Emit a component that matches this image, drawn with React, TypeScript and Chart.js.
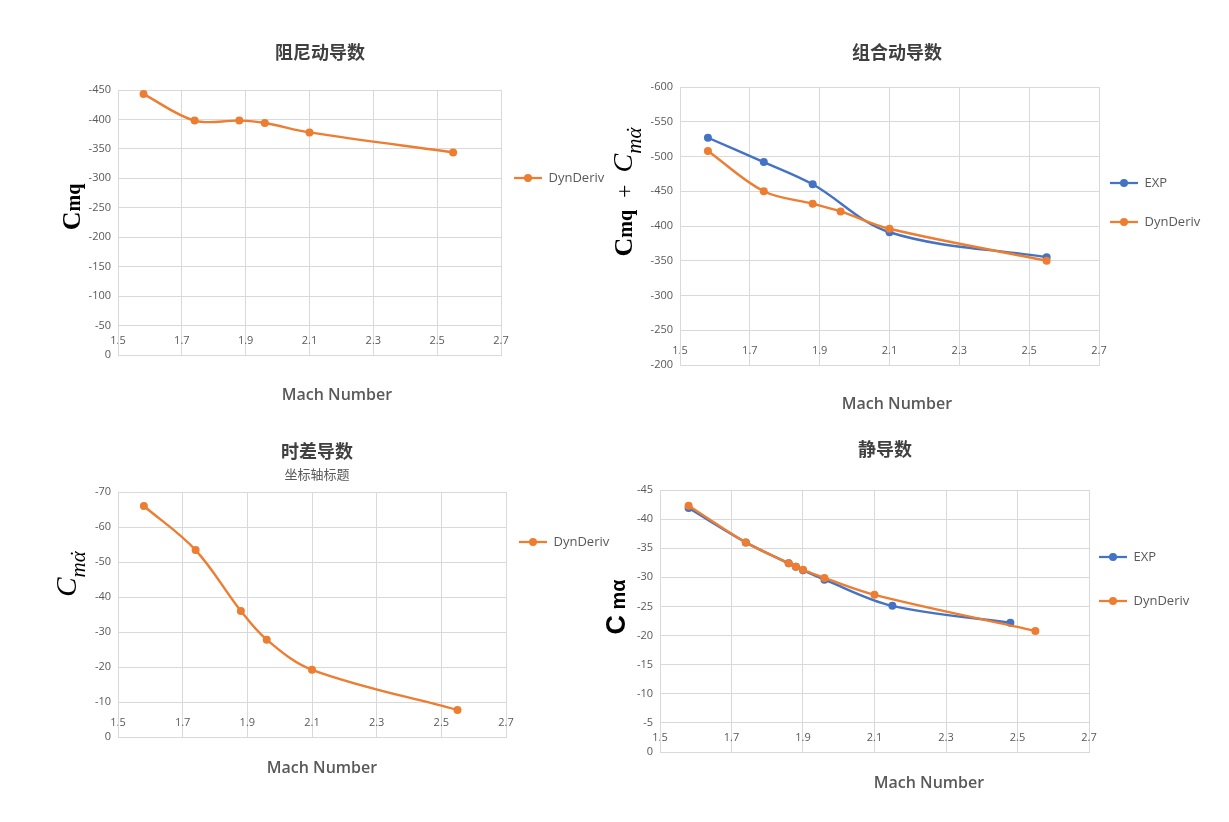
import { useEffect, useRef } from 'react';
import { Chart, registerables } from 'chart.js';

Chart.register(...registerables);

// ---------- data ----------
const machMin = 1.5;
const machMax = 2.7;
const machStep = 0.2;

// 阻尼动导数 (Cmq)
const dampMach = [1.58, 1.74, 1.88, 1.96, 2.1, 2.55];
const dampDyn = [-443, -398, -398, -394, -378, -344];
const dampAxis = [-450, 0, 50];

// 组合动导数 (Cmq + Cmα̇)
const combExpMach = [1.58, 1.74, 1.88, 2.1, 2.55];
const combExp = [-527, -492, -460, -391, -355];
const combDynMach = [1.58, 1.74, 1.88, 1.96, 2.1, 2.55];
const combDyn = [-508, -450, -432, -421, -396, -350];
const combAxis = [-600, -200, 50];

// 时差导数 (Cmα̇)
const lagMach = [1.58, 1.74, 1.88, 1.96, 2.1, 2.55];
const lagDyn = [-66, -53.4, -36, -27.8, -19.2, -7.7];
const lagAxis = [-70, 0, 10];

// 静导数 (Cmα)
const staticExpMach = [1.58, 1.74, 1.86, 1.88, 1.9, 1.96, 2.15, 2.48];
const staticExp = [-41.9, -36, -32.4, -31.8, -31.2, -29.6, -25.1, -22.2];
const staticDynMach = [1.58, 1.74, 1.86, 1.88, 1.9, 1.96, 2.1, 2.55];
const staticDyn = [-42.3, -36.0, -32.4, -31.8, -31.3, -29.9, -27.0, -20.8];
const staticAxis = [-45, 0, 5];

const chartTitles = ['阻尼动导数', '组合动导数', '时差导数', '静导数'];
const subTitle = '坐标轴标题';
const xAxisTitle = 'Mach Number';
const expLabel = 'EXP';
const dynLabel = 'DynDeriv';

// ---------- styles ----------
const ORANGE = '#ED7D31';
const BLUE = '#4472C4';
const GRID = '#d9d9d9';
const TICK = '#595959';
const OPEN = '"Open Sans", "Liberation Sans", sans-serif';
const TICK_FONT = { family: OPEN, size: 11 };
const LEGEND_SIZE = 13;
const LEGEND_ICON_W = 28;
const SERIF = '"Liberation Serif", "DejaVu Serif", serif';
const SANS = '"Liberation Sans", "DejaVu Sans", sans-serif';

type Seg = { text: string; font: string; dy?: number; dot?: boolean };
type Series = { label: string; xs: number[]; ys: number[]; color: string; order: number };
type Spec = {
  left: number; top: number; w: number; h: number;
  title: string; titleCx: number; titleTop: number; titleBottom: number;
  sub?: { text: string; top: number; bottom: number };
  plotL: number; plotR: number; xH: number;
  axis: number[];
  legendPad: number; legendLine: number; legendTop: number;
  xTitle: { cx: number; cy: number };
  yTitle: { cx: number; cy: number; base: number; segs: Seg[] };
  series: Series[];
};

const specs: Spec[] = [
  {
    left: 0, top: 0, w: 624, h: 420,
    title: chartTitles[0], titleCx: 320, titleTop: 41.2, titleBottom: 27.2,
    plotL: 118, plotR: 501, xH: 65,
    axis: dampAxis,
    legendPad: 13, legendLine: 20, legendTop: 148.5,
    xTitle: { cx: 337, cy: 395 },
    yTitle: {
      cx: 71, cy: 207, base: 8.5,
      segs: [
        { text: 'C', font: `bold 26px ${SERIF}` },
        { text: 'mq', font: `bold 20px ${SERIF}` },
      ],
    },
    series: [{ label: dynLabel, xs: dampMach, ys: dampDyn, color: ORANGE, order: 1 }],
  },
  {
    left: 570, top: 0, w: 659, h: 420,
    title: chartTitles[1], titleCx: 327, titleTop: 41.2, titleBottom: 24.2,
    plotL: 110, plotR: 529, xH: 55,
    axis: combAxis,
    legendPad: 11, legendLine: 28, legendTop: 155.5,
    xTitle: { cx: 327, cy: 404 },
    yTitle: {
      cx: 53, cy: 192, base: 8.5,
      segs: [
        { text: 'C', font: `bold 26px ${SERIF}` },
        { text: 'mq', font: `bold 20px ${SERIF}` },
        { text: '  +  ', font: `24px ${SERIF}` },
        { text: 'C', font: `italic 28px ${SERIF}` },
        { text: 'mα', font: `italic 21px ${SERIF}`, dy: 9, dot: true },
      ],
    },
    series: [
      { label: expLabel, xs: combExpMach, ys: combExp, color: BLUE, order: 2 },
      { label: dynLabel, xs: combDynMach, ys: combDyn, color: ORANGE, order: 1 },
    ],
  },
  {
    left: 0, top: 420, w: 626, h: 402,
    title: chartTitles[2], titleCx: 317, titleTop: 20.2, titleBottom: 0,
    sub: { text: subTitle, top: 4.4, bottom: 10.2 },
    plotL: 118, plotR: 506, xH: 85,
    axis: lagAxis,
    legendPad: 13, legendLine: 20, legendTop: 92.5,
    xTitle: { cx: 322, cy: 348 },
    yTitle: {
      cx: 68, cy: 154, base: 8,
      segs: [
        { text: 'C', font: `italic 29px ${SERIF}` },
        { text: 'mα', font: `italic 21px ${SERIF}`, dy: 9, dot: true },
      ],
    },
    series: [{ label: dynLabel, xs: lagMach, ys: lagDyn, color: ORANGE, order: 1 }],
  },
  {
    left: 560, top: 420, w: 669, h: 402,
    title: chartTitles[3], titleCx: 325, titleTop: 18.2, titleBottom: 30.2,
    plotL: 100, plotR: 529, xH: 70,
    axis: staticAxis,
    legendPad: 10, legendLine: 34, legendTop: 110.5,
    xTitle: { cx: 369, cy: 363 },
    yTitle: {
      cx: 56, cy: 187, base: 8.5,
      segs: [
        { text: 'C', font: `bold 27px ${SANS}` },
        { text: ' mα', font: `bold 20px ${SANS}` },
      ],
    },
    series: [
      { label: expLabel, xs: staticExpMach, ys: staticExp, color: BLUE, order: 2 },
      { label: dynLabel, xs: staticDynMach, ys: staticDyn, color: ORANGE, order: 1 },
    ],
  },
];

function legendIcon(color: string) {
  const c = document.createElement('canvas');
  c.width = LEGEND_ICON_W;
  c.height = 10;
  const g = c.getContext('2d')!;
  g.strokeStyle = color;
  g.lineWidth = 2.25;
  g.beginPath();
  g.moveTo(0, 5);
  g.lineTo(LEGEND_ICON_W, 5);
  g.stroke();
  g.fillStyle = color;
  g.beginPath();
  g.arc(LEGEND_ICON_W / 2, 5, 4, 0, Math.PI * 2);
  g.fill();
  return c;
}

function measure(text: string, font: string) {
  const c = document.createElement('canvas');
  const g = c.getContext('2d')!;
  g.font = font;
  return g.measureText(text).width;
}

function axisTitlesPlugin(spec: Spec) {
  return {
    id: 'richAxisTitles',
    afterDraw(chart: any) {
      const ctx = chart.ctx as CanvasRenderingContext2D;
      ctx.save();
      ctx.font = `600 16px ${OPEN}`;
      ctx.fillStyle = TICK;
      ctx.textAlign = 'center';
      ctx.textBaseline = 'middle';
      ctx.fillText(xAxisTitle, spec.xTitle.cx, spec.xTitle.cy);
      ctx.restore();

      const yt = spec.yTitle;
      ctx.save();
      ctx.translate(yt.cx, yt.cy);
      ctx.rotate(-Math.PI / 2);
      ctx.fillStyle = '#000';
      ctx.textAlign = 'left';
      ctx.textBaseline = 'alphabetic';
      let total = 0;
      const widths = yt.segs.map((s) => {
        ctx.font = s.font;
        const w = ctx.measureText(s.text).width;
        total += w;
        return w;
      });
      let cur = -total / 2;
      yt.segs.forEach((s, i) => {
        ctx.font = s.font;
        const by = yt.base + (s.dy || 0);
        ctx.fillText(s.text, cur, by);
        if (s.dot) {
          const lastW = ctx.measureText(s.text.slice(-1)).width;
          ctx.textAlign = 'center';
          ctx.fillText('˙', cur + widths[i] - lastW / 2 + 2, by);
          ctx.textAlign = 'left';
        }
        cur += widths[i];
      });
      ctx.restore();
    },
  };
}

function buildConfig(spec: Spec): any {
  const [yMin, yMax, yStep] = spec.axis;
  const legendFont = `${LEGEND_SIZE}px ${OPEN}`;
  const maxText = Math.max(...spec.series.map((s) => measure(s.label, legendFont)));
  const legendW = spec.legendPad + LEGEND_ICON_W + LEGEND_SIZE / 2 + maxText + 10;
  const padR = spec.w - spec.plotR - legendW;
  const padL = 2 * spec.titleCx - spec.w + padR;
  const yW = spec.plotL - padL;
  return {
    type: 'line',
    data: {
      datasets: spec.series.map((s) => ({
        label: s.label,
        data: s.xs.map((x, i) => ({ x, y: s.ys[i] })),
        borderColor: s.color,
        backgroundColor: s.color,
        pointBackgroundColor: s.color,
        pointBorderColor: s.color,
        pointRadius: 4,
        pointHoverRadius: 4,
        pointBorderWidth: 0,
        borderWidth: 2.4,
        tension: 0.35,
        fill: false,
        order: s.order,
      })),
    },
    options: {
      responsive: false,
      animation: false,
      events: [],
      layout: { padding: { left: padL, right: padR, top: 0, bottom: 0 } },
      scales: {
        x: {
          type: 'linear',
          min: machMin,
          max: machMax,
          ticks: {
            stepSize: machStep,
            callback: (v: any) => Number(v).toFixed(1),
            mirror: true,
            padding: 8,
            maxRotation: 0,
            autoSkip: false,
            color: TICK,
            font: TICK_FONT,
          },
          grid: { color: GRID, drawTicks: false, lineWidth: 1 },
          border: { color: GRID, width: 1 },
          afterFit: (s: any) => {
            s.height = spec.xH;
          },
        },
        y: {
          type: 'linear',
          reverse: true,
          min: yMin,
          max: yMax,
          ticks: { stepSize: yStep, padding: 7, color: TICK, font: TICK_FONT },
          grid: { color: GRID, drawTicks: false, lineWidth: 1 },
          border: { color: GRID, width: 1 },
          afterFit: (s: any) => {
            s.width = yW;
          },
        },
      },
      plugins: {
        tooltip: { enabled: false },
        title: {
          display: true,
          text: spec.title,
          color: '#404040',
          font: { family: '"Noto Sans CJK SC", sans-serif', size: 18, weight: 'bold', lineHeight: 1.2 },
          padding: { top: spec.titleTop, bottom: spec.titleBottom },
        },
        subtitle: spec.sub
          ? {
              display: true,
              text: spec.sub.text,
              color: TICK,
              font: { family: '"Noto Sans CJK SC", sans-serif', size: 13, lineHeight: 1.2 },
              padding: { top: spec.sub.top, bottom: spec.sub.bottom },
            }
          : { display: false },
        legend: {
          display: true,
          position: 'right',
          align: 'start',
          title: { display: true, text: '', font: { size: 10, lineHeight: 1 }, padding: { top: spec.legendTop, bottom: 0 } },
          labels: {
            usePointStyle: true,
            pointStyleWidth: LEGEND_ICON_W,
            padding: spec.legendPad,
            color: TICK,
            font: { family: OPEN, size: LEGEND_SIZE, lineHeight: `${spec.legendLine}px` },
            generateLabels: (chart: any) =>
              chart.data.datasets.map((ds: any, i: number) => ({
                text: [ds.label],
                fillStyle: ds.borderColor,
                strokeStyle: ds.borderColor,
                lineWidth: 0,
                pointStyle: legendIcon(ds.borderColor),
                fontColor: TICK,
                hidden: false,
                datasetIndex: i,
              })),
          },
        },
      },
    },
    plugins: [axisTitlesPlugin(spec)],
  };
}

function ChartBox({ spec }: { spec: Spec }) {
  const ref = useRef<HTMLCanvasElement | null>(null);
  useEffect(() => {
    if (!ref.current) return;
    const chart = new Chart(ref.current, buildConfig(spec));
    return () => chart.destroy();
  }, [spec]);
  return (
    <canvas
      ref={ref}
      width={spec.w}
      height={spec.h}
      style={{ position: 'absolute', left: spec.left, top: spec.top, width: spec.w, height: spec.h }}
    />
  );
}

export default function App() {
  return (
    <div
      style={{
        position: 'absolute',
        left: 0,
        top: 0,
        width: 1229,
        height: 822,
        background: '#ffffff',
        overflow: 'hidden',
      }}
    >
      {specs.map((s, i) => (
        <ChartBox key={i} spec={s} />
      ))}
    </div>
  );
}
